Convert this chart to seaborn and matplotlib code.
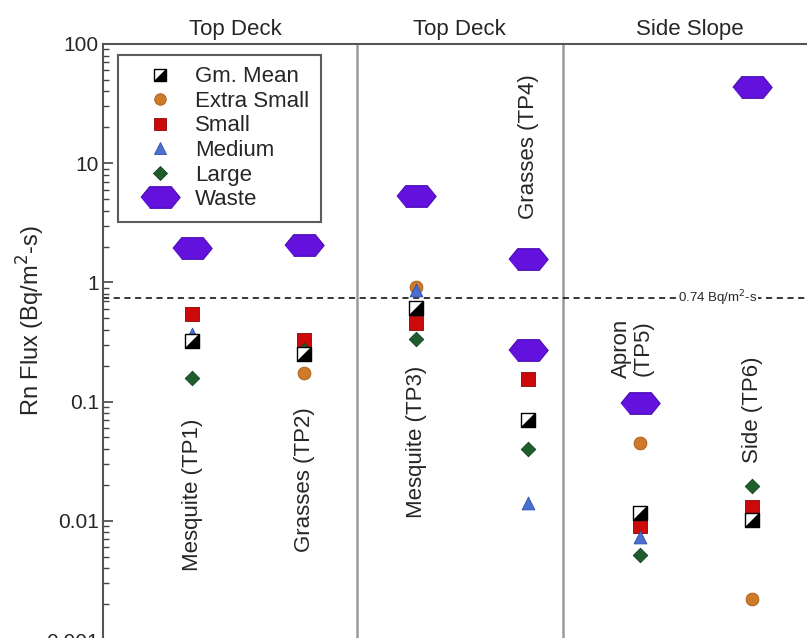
import numpy as np
import pandas as pd
import matplotlib
matplotlib.use('Agg')
import matplotlib.pyplot as plt
from matplotlib.lines import Line2D
from matplotlib.legend_handler import HandlerTuple
from matplotlib.ticker import FixedLocator, FixedFormatter, LogLocator, NullFormatter
import seaborn as sns

sns.set_style('white')
plt.rcParams['font.family'] = ['Liberation Sans', 'DejaVu Sans']

# ── Data ──────────────────────────────────────────────────────────────────
nan = np.nan
sites = ["TP1", "TP2", "TP3", "TP4", "TP5", "TP6"]
site_labels = ["Mesquite (TP1)", "Grasses (TP2)", "Mesquite (TP3)",
               "Grasses (TP4)", "Apron\n(TP5)", "Side (TP6)"]
gm_mean = [0.32, 0.25, 0.61, 0.070, 0.0116, 0.0102]
extra_small = [nan, 0.174, 0.92, nan, 0.045, 0.0022]
small = [0.54, 0.33, 0.46, 0.155, 0.0091, 0.0131]
medium = [0.37, nan, 0.86, 0.0141, 0.0073, nan]
large = [0.158, 0.27, 0.335, 0.040, 0.0052, 0.0196]
waste_sites = ["TP1", "TP2", "TP3", "TP4", "TP4", "TP5", "TP6"]
waste = [1.95, 2.05, 5.3, 1.57, 0.27, 0.097, 44.0]
standard = 0.74
areas = ["Top Deck", "Top Deck", "Side Slope"]

pos = {s: i + 1 for i, s in enumerate(sites)}

rows = []
for name, vals in [("Extra Small", extra_small), ("Small", small),
                   ("Medium", medium), ("Large", large), ("Gm. Mean", gm_mean)]:
    for s, v in zip(sites, vals):
        rows.append((name, s, pos[s], v))
for s, v in zip(waste_sites, waste):
    rows.append(("Waste", s, pos[s], v))
df = pd.DataFrame(rows, columns=['series', 'site', 'x', 'flux']).dropna()

HEX = [(-1, 0), (-0.55, 0.55), (0.55, 0.55), (1, 0), (0.55, -0.55), (-0.55, -0.55)]
HALF = [(-1, -1), (1, -1), (1, 1)]

styles = {
    'Waste':       dict(marker=HEX, color='#6212DC', edgecolor='#4A0AB0', s=800, linewidth=0.8),
    'Extra Small': dict(marker='o', color='#CF7A2A', edgecolor='#A85A18', s=85, linewidth=0.6),
    'Small':       dict(marker='s', color='#CC0A0A', edgecolor='#8A0505', s=95, linewidth=0.6),
    'Medium':      dict(marker='^', color='#4A6FD0', edgecolor='#2E4FA8', s=85, linewidth=0.6),
    'Large':       dict(marker='D', color='#1E5E2E', edgecolor='#144020', s=55, linewidth=0.6),
}

fig = plt.figure(figsize=(8.07, 6.38), dpi=100)
ax = fig.add_axes([103 / 807, -2 / 638, 712 / 807, 596 / 638])

z = 3
for name, st in styles.items():
    sub = df[df.series == name]
    sns.scatterplot(data=sub, x='x', y='flux', ax=ax, legend=False, zorder=z, **st)
    z += 1

gm = df[df.series == 'Gm. Mean']
sns.scatterplot(data=gm, x='x', y='flux', ax=ax, legend=False, zorder=z,
                marker='s', color='white', edgecolor='black', s=95, linewidth=1.0)
sns.scatterplot(data=gm, x='x', y='flux', ax=ax, legend=False, zorder=z + 1,
                marker=HALF, color='black', s=95, linewidth=0)

ax.set_yscale('log')
ax.set_ylim(0.001, 100)
ax.set_xlim(0.205, 6.56)

# threshold line
ax.axhline(standard, color='black', ls=(0, (4, 3)), lw=1.1, zorder=2)
ax.text(5.69, standard, "0.74 Bq/m$^2$-s", fontsize=9.5, ha='center', va='center',
        zorder=2.5, bbox=dict(facecolor='white', edgecolor='none', pad=0.5))

# area separators and headers
for xv in [2.47, 4.31]:
    ax.axvline(xv, color='#9a9a9a', lw=1.8, zorder=1)
for xv, lab in zip([1.39, 3.39, 5.44], areas):
    ax.text(xv, 1.025, lab, transform=ax.get_xaxis_transform(), ha='center',
            va='center', fontsize=16, clip_on=False)

# rotated site labels
label_y = [0.0164, 0.022, 0.046, 13.9, 0.28, 0.085]
label_x = [1.0, 2.0, 3.0, 4.0, 4.93, 6.0]
for xv, yv, lab in zip(label_x, label_y, site_labels):
    ax.text(xv, yv, lab, rotation=90, ha='center', va='center', fontsize=16,
            multialignment='center', linespacing=1.0, zorder=2)

# axes styling
ax.yaxis.set_major_locator(FixedLocator([0.001, 0.01, 0.1, 1, 10, 100]))
ax.yaxis.set_major_formatter(FixedFormatter(["0.001", "0.01", "0.1", "1", "10", "100"]))
ax.yaxis.set_minor_locator(LogLocator(base=10, subs=np.arange(2, 10), numticks=20))
ax.yaxis.set_minor_formatter(NullFormatter())
ax.tick_params(axis='y', which='major', direction='in', length=7, width=1.2,
               labelsize=15, left=True, right=False, color='#444', pad=3)
ax.tick_params(axis='y', which='minor', direction='in', length=4, width=1.0,
               left=True, right=False, color='#444')
ax.set_xticks([])
ax.set_xlabel("")
ax.set_ylabel("Rn Flux (Bq/m$^2$-s)", fontsize=17)
ax.yaxis.set_label_coords(-0.079, 0.535)
for side in ['top', 'left', 'bottom']:
    ax.spines[side].set_color('#555')
    ax.spines[side].set_linewidth(1.5)
ax.spines['right'].set_visible(False)

# legend
mean_sq = Line2D([], [], ls='none', marker='s', markersize=9, markerfacecolor='white',
                 markeredgecolor='black', markeredgewidth=1.0)
mean_half = Line2D([], [], ls='none', marker=HALF, markersize=9, markerfacecolor='black',
                   markeredgewidth=0)
handles = [(mean_sq, mean_half)]
labels = ["Gm. Mean"]
for name in ['Extra Small', 'Small', 'Medium', 'Large', 'Waste']:
    st = styles[name]
    ms = np.sqrt(st['s']) * (0.9 if name != 'Waste' else 1.0)
    handles.append(Line2D([], [], ls='none', marker=st['marker'], markersize=ms,
                          markerfacecolor=st['color'], markeredgecolor=st['edgecolor'],
                          markeredgewidth=st['linewidth']))
    labels.append(name)
leg = ax.legend(handles, labels, loc='upper left', bbox_to_anchor=(0.021, 0.982),
                borderaxespad=0, fontsize=16, frameon=True, fancybox=False,
                labelspacing=0.16, handletextpad=0.2, borderpad=0.52, handlelength=2.75,
                handler_map={tuple: HandlerTuple(ndivide=1, pad=0)})
leg.get_frame().set_edgecolor('#333')
leg.get_frame().set_linewidth(1.5)
leg.set_zorder(10)

fig.savefig('out.png', dpi=100)
